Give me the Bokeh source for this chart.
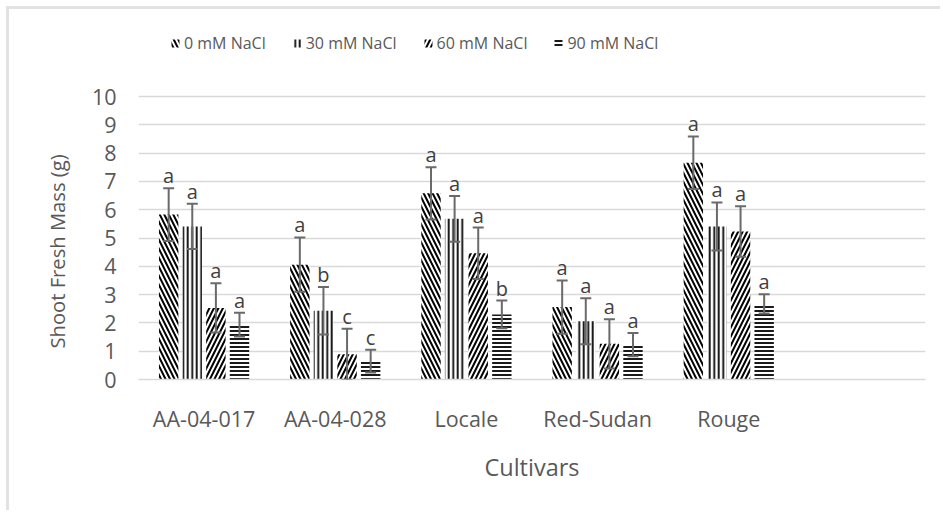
from bokeh.plotting import figure
from bokeh.models import (ColumnDataSource, FactorRange, Whisker, TeeHead, Legend,
                          LegendItem, Title)
from bokeh.transform import dodge
from bokeh.core.properties import value
from bokeh.embed import file_html
from bokeh.resources import INLINE

cultivars = ["AA-04-017", "AA-04-028", "Locale", "Red-Sudan", "Rouge"]
treatments = ["0 mM NaCl", "30 mM NaCl", "60 mM NaCl", "90 mM NaCl"]

mass_0 = [5.83, 4.06, 6.58, 2.56, 7.66]
mass_30 = [5.41, 2.43, 5.68, 2.06, 5.41]
mass_60 = [2.53, 0.89, 4.46, 1.26, 5.23]
mass_90 = [1.94, 0.65, 2.30, 1.23, 2.67]

err_0 = [0.93, 0.96, 0.92, 0.94, 0.93]
err_30 = [0.80, 0.84, 0.81, 0.81, 0.85]
err_60 = [0.87, 0.90, 0.91, 0.87, 0.89]
err_90 = [0.42, 0.40, 0.49, 0.41, 0.34]

letters_0 = ["a", "a", "a", "a", "a"]
letters_30 = ["a", "b", "a", "a", "a"]
letters_60 = ["a", "c", "a", "a", "a"]
letters_90 = ["a", "c", "b", "a", "a"]

y_ticks = list(range(0, 11))

means = [mass_0, mass_30, mass_60, mass_90]
errs = [err_0, err_30, err_60, err_90]
letters = [letters_0, letters_30, letters_60, letters_90]

FONT = "Open Sans"
GRAY = "#595959"

# frame extends above the value 10 to hold the legend (no gridlines there)
p = figure(x_range=FactorRange(*(cultivars + [" "])), y_range=(0, 12.69),
           width=940, height=510, output_backend="svg", toolbar_location=None,
           min_border_left=138, min_border_right=15, min_border_top=20,
           min_border_bottom=131)
p.border_fill_color = None
p.styles = {"background": "linear-gradient(#e2e2e2,#e2e2e2) 6px 6px / 3px calc(100% - 6px) no-repeat, "
                          "linear-gradient(#e2e2e2,#e2e2e2) 6px 6px / calc(100% - 6px) 3px no-repeat, white"}
p.outline_line_color = None
p.xgrid.grid_line_color = None
p.ygrid.grid_line_color = "#d9d9d9"
p.ygrid.grid_line_width = 1.5

offsets = [-0.27, -0.09, 0.09, 0.27]
patterns = ["left_diagonal_line", "vertical_line", "right_diagonal_line", "horizontal_line"]
scales = [9.0, 4.5, 9.0, 4.0]
weights = [2.0, 1.8, 2.0, 1.8]

items = []
for i in range(4):
    src = ColumnDataSource(dict(
        cultivar=cultivars, mean=means[i],
        upper=[m + e for m, e in zip(means[i], errs[i])],
        lower=[m - e for m, e in zip(means[i], errs[i])],
        letter=letters[i]))
    x = dodge("cultivar", offsets[i], range=p.x_range)
    r = p.vbar(x=x, top="mean", width=0.148, source=src,
               fill_color="white", line_color=None,
               hatch_pattern=patterns[i], hatch_color="black",
               hatch_scale=scales[i], hatch_weight=weights[i])
    items.append(LegendItem(label=treatments[i], renderers=[r]))
    w = Whisker(source=src, base=x, upper="upper", lower="lower",
                line_color="#6a6a6a", line_width=2, level="annotation",
                upper_head=TeeHead(size=11, line_color="#6a6a6a", line_width=2),
                lower_head=TeeHead(size=11, line_color="#6a6a6a", line_width=2))
    p.add_layout(w)
    p.text(x=x, y="upper", text="letter", source=src, text_align="center",
           text_baseline="bottom", y_offset=1, text_font=value(FONT),
           text_font_size="20px", text_color="#404040")

legend = Legend(items=items, orientation="horizontal", location=(32, 325),
                padding=0, margin=0, spacing=26, glyph_width=10, glyph_height=10,
                label_standoff=4, label_text_font=FONT, label_text_font_size="16px",
                label_text_color=GRAY, border_line_color=None,
                background_fill_alpha=0)
p.add_layout(legend)

p.yaxis.ticker = y_ticks
p.yaxis.axis_line_color = None
p.yaxis.major_tick_line_color = None
p.yaxis.minor_tick_line_color = None
p.yaxis.major_label_standoff = 16
p.xaxis.axis_label = "Cultivars"
p.xaxis.axis_line_color = "#d9d9d9"
p.xaxis.axis_line_width = 1.5
p.xaxis.major_tick_line_color = None
p.xaxis.major_label_standoff = 18
p.xaxis.axis_label_standoff = 15
for ax in (p.xaxis, p.yaxis):
    ax.major_label_text_font = FONT
    ax.major_label_text_font_size = "21.5px"
    ax.major_label_text_color = GRAY
    ax.axis_label_text_font = FONT
    ax.axis_label_text_font_size = "23.5px"
    ax.axis_label_text_font_style = "normal"
    ax.axis_label_text_color = GRAY

ylab = Title(text="Shoot Fresh Mass (g)", align="left", offset=31, standoff=35,
             text_font=FONT, text_font_size="20.2px", text_font_style="normal",
             text_color=GRAY)
p.add_layout(ylab, "left")

open("out.html", "w").write(file_html(p, INLINE))
